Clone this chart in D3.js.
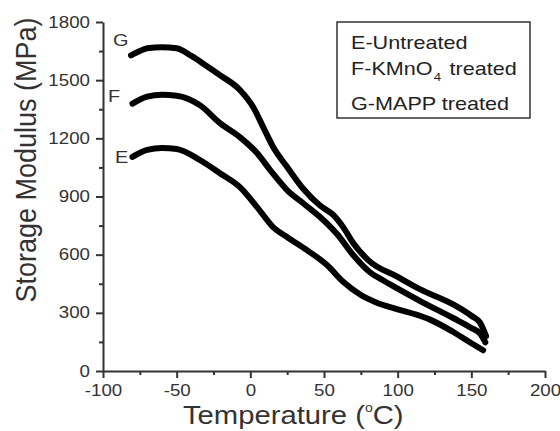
<!DOCTYPE html>
<html>
<head>
<meta charset="utf-8">
<script src="https://cdn.jsdelivr.net/npm/d3@7"></script>
<style>
  body { margin: 0; background: #fff; }
  svg { display: block; font-family: Arial, "Liberation Sans", sans-serif; }
</style>
</head>
<body>
<div id="chart"></div>
<script>
// curves: temperature (°C) and storage modulus (MPa)
const tempE = [-80, -70, -60, -50, -34, -20.4, -6.9, 4.7, 15.6, 25.1, 38.7, 52.2, 63, 75, 85, 100, 115, 122, 138, 149, 158];
const modE = [1104, 1140, 1150, 1145, 1087, 1019, 947, 844, 741, 690, 622, 545, 460, 392, 355, 318, 285, 265, 200, 148, 107];

const tempF = [-80, -70, -60, -50, -34, -20.4, -6.9, 4.7, 13.6, 25.1, 35.9, 47.5, 59, 69.8, 81.4, 90, 100, 115, 138, 150, 156, 159.5];
const modF = [1379, 1415, 1425, 1420, 1370, 1277, 1205, 1123, 1035, 932, 865, 793, 705, 598, 508, 468, 425, 362, 272, 222, 192, 148];

const tempG = [-81, -75, -70, -60, -50, -40, -30, -20.4, -6.9, 2, 8.8, 15.6, 25.1, 35.9, 47.5, 56.3, 63, 69.8, 80, 100, 115, 138, 150, 156, 160];
const modG = [1628, 1650, 1665, 1670, 1665, 1625, 1575, 1525, 1448, 1360, 1257, 1154, 1051, 940, 852, 805, 742, 660, 572, 485, 422, 342, 285, 248, 180];

const curveNames = ['E', 'F', 'G'];
const legendLines = ['E-Untreated', 'F-KMnO', 'G-MAPP treated'];

const xMajor = [-100, -50, 0, 50, 100, 150, 200];
const xMinor = [-75, -25, 25, 75, 125, 175];
const yMajor = [0, 300, 600, 900, 1200, 1500, 1800];
const yMinor = [150, 450, 750, 1050, 1350, 1650];

const width = 560;
const height = 431;
const stretch = 1.17; // the source text is drawn a bit wide
const ink = '#333';

const svg = d3.select('#chart')
  .append('svg')
  .attr('width', width)
  .attr('height', height);

const x = d3.scaleLinear().domain([-100, 200]).range([103, 545]);
const y = d3.scaleLinear().domain([0, 1800]).range([371, 22]);

// minor ticks first, then major ones with labels
svg.append('g')
  .attr('transform', `translate(0,${y(0)})`)
  .call(d3.axisBottom(x).tickValues(xMinor).tickSize(4).tickFormat(''))
  .call(g => g.select('.domain').remove());

svg.append('g')
  .attr('transform', `translate(${x(-100)},0)`)
  .call(d3.axisLeft(y).tickValues(yMinor).tickSize(4).tickFormat(''))
  .call(g => g.select('.domain').remove());

svg.append('g')
  .attr('class', 'axis x')
  .attr('transform', `translate(0,${y(0)})`)
  .call(d3.axisBottom(x).tickValues(xMajor).tickFormat(d => String(d))
    .tickSize(7).tickSizeOuter(0).tickPadding(7));

svg.append('g')
  .attr('class', 'axis y')
  .attr('transform', `translate(${x(-100)},0)`)
  .call(d3.axisLeft(y).tickValues(yMajor).tickFormat(d => String(d))
    .tickSize(7).tickSizeOuter(0).tickPadding(6));

svg.selectAll('.tick line, .domain')
  .attr('stroke', ink)
  .attr('stroke-width', 2);

svg.selectAll('.axis text')
  .attr('fill', ink)
  .style('font-size', '16px')
  .each(function() {
    const t = d3.select(this);
    const tx = +t.attr('x') || 0;
    t.attr('x', 0).attr('transform', `translate(${tx},0) scale(${stretch},1)`);
  });

// axis titles
const xTitle = svg.append('text')
  .attr('transform', `translate(183,424) scale(${stretch},1)`)
  .attr('fill', ink)
  .style('font-size', '25px');
xTitle.append('tspan').text('Temperature (');
xTitle.append('tspan').attr('dy', -12).style('font-size', '12px').text('o');
xTitle.append('tspan').attr('dy', 12).text('C)');

svg.append('text')
  .attr('transform', 'translate(36,160) rotate(-90) scale(1,1.1)')
  .attr('text-anchor', 'middle')
  .attr('fill', ink)
  .style('font-size', '27px')
  .text('Storage Modulus (MPa)');

// the three curves
const series = [
  { name: 'E', t: tempE, v: modE, lx: 115, ly: 163 },
  { name: 'F', t: tempF, v: modF, lx: 108, ly: 102 },
  { name: 'G', t: tempG, v: modG, lx: 113, ly: 46 }
];

const line = d3.line()
  .x(d => x(d[0]))
  .y(d => y(d[1]))
  .curve(d3.curveMonotoneX);

svg.append('g')
  .selectAll('path')
  .data(series)
  .join('path')
  .attr('d', d => line(d3.zip(d.t, d.v)))
  .attr('fill', 'none')
  .attr('stroke', '#000')
  .attr('stroke-width', 6)
  .attr('stroke-linecap', 'round')
  .attr('stroke-linejoin', 'round');

svg.append('g')
  .selectAll('text')
  .data(series)
  .join('text')
  .attr('transform', d => `translate(${d.lx},${d.ly}) scale(${stretch},1)`)
  .attr('fill', ink)
  .style('font-size', '17px')
  .text((d, i) => curveNames[i]);

// legend box
const legend = svg.append('g');
legend.append('rect')
  .attr('x', 337)
  .attr('y', 22)
  .attr('width', 193)
  .attr('height', 96)
  .attr('fill', '#fff')
  .attr('stroke', ink)
  .attr('stroke-width', 1.5);

const legendY = [49, 75, 110];
legendLines.forEach((label, i) => {
  const t = legend.append('text')
    .attr('transform', `translate(351,${legendY[i]}) scale(1.2,1)`)
    .attr('fill', '#222')
    .style('font-size', '18px');
  t.append('tspan').text(label);
  if (label === 'F-KMnO') {
    t.append('tspan').attr('dy', 6).attr('dx', 1).style('font-size', '11px').text('4');
    t.append('tspan').attr('dy', -6).attr('dx', 2).text(' treated');
  }
});
</script>
</body>
</html>
